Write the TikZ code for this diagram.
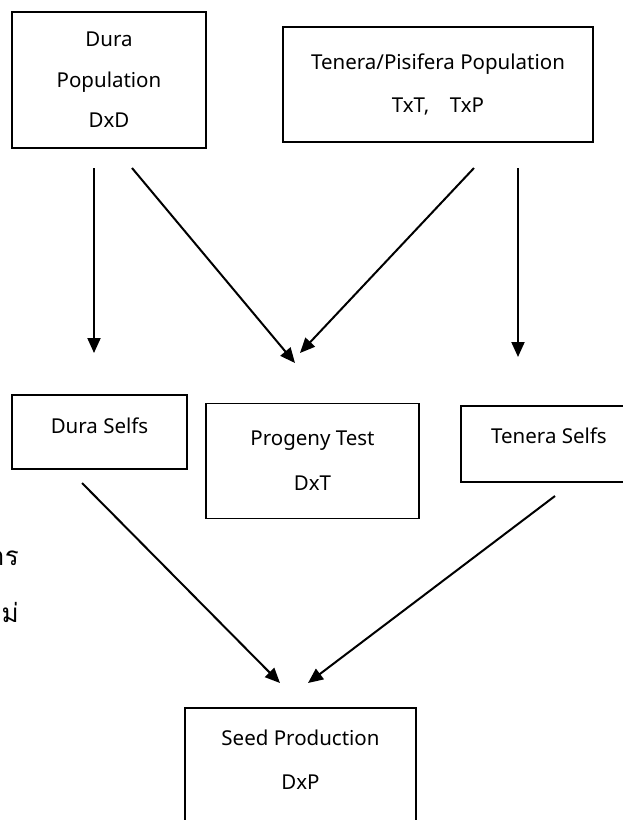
\documentclass[tikz,border=0pt]{standalone}
\usepackage{fontspec}
\setmainfont{Noto Sans}
\newfontfamily\thaifont[Script=Thai]{Loma}
\usetikzlibrary{arrows.meta}

\begin{document}
\begin{tikzpicture}[x=1pt, y=-1pt, >={Triangle[length=15pt,width=13pt]},
        box/.style={draw, line width=1.3pt, align=center, inner sep=0pt,
            font=\fontsize{20.5}{43}\selectfont},
        arr/.style={->, line width=2pt}]

    \useasboundingbox (0,0) rectangle (622,820);

    \node[box, minimum width=194pt, minimum height=136pt, font=\fontsize{20.5}{40.5}\selectfont] (dura) at (109,80) {Dura\\Population\\DxD};
    \node[box, minimum width=310pt, minimum height=115pt] (tp) at (438,84.5) {Tenera/Pisifera Population\\TxT,\quad TxP};
    \node[box, minimum width=175pt, minimum height=74pt, text depth=12pt] (dself) at (99.5,432) {Dura Selfs};
    \node[box, minimum width=213pt, minimum height=115pt, font=\fontsize{20.5}{45}\selectfont] (prog) at (312.5,461) {Progeny Test\\DxT};
    \node[box, minimum width=176pt, minimum height=76pt, text depth=16pt] (tself) at (549,444) {Tenera Selfs};
    \node[box, minimum width=231pt, minimum height=140pt] (seed) at (300.5,778) {};
    \node[font=\fontsize{20.5}{44}\selectfont, align=center] (seedtxt) at (300.5,760) {Seed Production\\DxP};

    \node[font=\thaifont\fontsize{26}{30}\selectfont, anchor=east, inner sep=0pt] (th1) at (19,558) {าร};
    \node[font=\thaifont\fontsize{26}{30}\selectfont, anchor=east, inner sep=0pt] (th2) at (19,612) {ม่};

    \coordinate (d1) at (94,168);
    \coordinate (d2) at (132,168);
    \coordinate (t1) at (474,168);
    \coordinate (t2) at (518,168);
    \coordinate (ds) at (94,353);
    \coordinate (pg1) at (295,363);
    \coordinate (pg2) at (300,353);
    \coordinate (ts) at (518,357);
    \coordinate (ds1) at (82,483);
    \coordinate (ts1) at (555,496);
    \coordinate (sd1) at (280,683);
    \coordinate (sd2) at (308,683);

    \draw[arr] (d1) -- (ds);
    \draw[arr] (d2) -- (pg1);
    \draw[arr] (t1) -- (pg2);
    \draw[arr] (t2) -- (ts);
    \draw[arr] (ds1) -- (sd1);
    \draw[arr] (ts1) -- (sd2);
        \end{tikzpicture}
\end{document}
